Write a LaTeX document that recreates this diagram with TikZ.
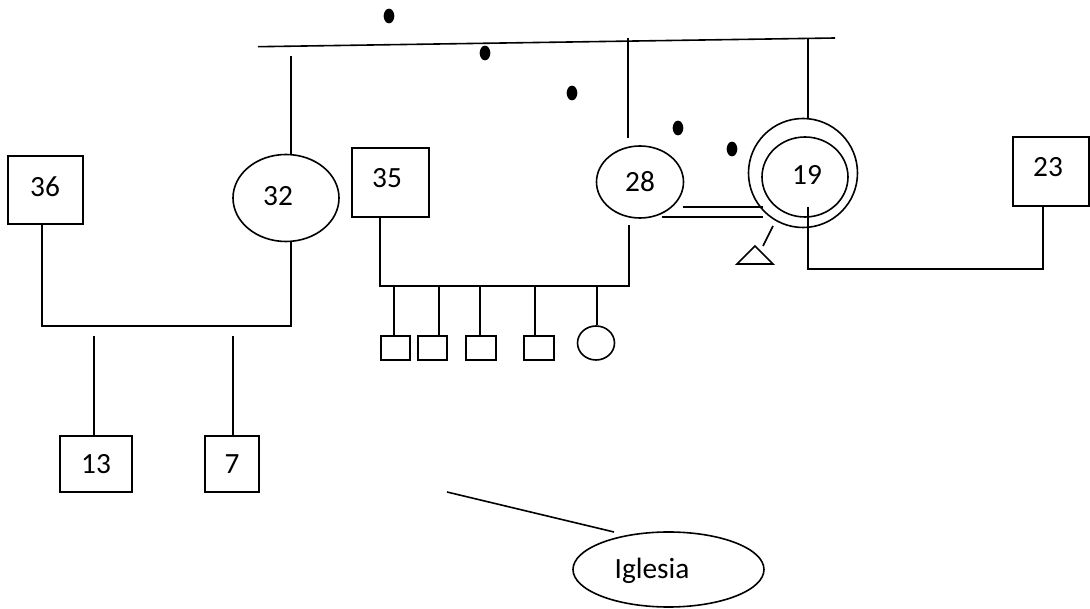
\documentclass[tikz,border=0pt]{standalone}
\usepackage{fontspec}
\setmainfont{Carlito}
\usetikzlibrary{shapes.geometric}
\begin{document}
\begin{tikzpicture}[x=0.75pt,y=-0.75pt,line width=1.2pt,
  every node/.style={font=\fontsize{22}{26}\selectfont,inner sep=0pt},
  sz/.style 2 args={minimum width=#1*0.75pt,minimum height=#2*0.75pt},
  box/.style={draw,rectangle,line width=1.2pt},
  oval/.style={draw,ellipse,line width=1.2pt},
  txt/.style={draw=none},
  dot/.style={fill=black,ellipse,minimum width=8pt,minimum height=11pt,inner sep=0pt}]
\useasboundingbox (0,0) rectangle (1090,609);

% top line and dots
\coordinate (tl) at (258,46.7);
\coordinate (tr) at (835,38);
\draw (tl) -- (tr);
\node[dot] (d1) at (389,16) {};
\node[dot] (d2) at (485,53) {};
\node[dot] (d3) at (572,93) {};
\node[dot] (d4) at (678,128) {};
\node[dot] (d5) at (732,149) {};

% left family
\node[box,sz={75}{68}] (b36) at (45.5,190) {};
\node[txt] (t36) at (45,187) {36};
\node[oval,sz={106}{87}] (e32) at (286,198) {};
\node[txt] (t32txt) at (278,196) {32};
\node[box,sz={72}{56}] (b13) at (96,464) {13};
\node[box,sz={54}{56}] (b7) at (232,464) {7};
\coordinate (t32) at (291,56);
\draw (t32) -- (t32 |- e32.north);
\coordinate (m36) at (42,326);
\coordinate (m32) at (291,326);
\draw (m36 |- b36.south) -- (m36) -- (m32) -- (m32 |- e32.south);
\coordinate (k13) at (94,336);
\coordinate (k7) at (233,336);
\draw (k13) -- (k13 |- b13.north);
\draw (k7) -- (k7 |- b7.north);

% middle family
\node[box,sz={77}{69}] (b35) at (390.5,182.5) {};
\node[txt] (t35) at (387,178) {35};
\node[oval,sz={87}{72}] (e28) at (640,182) {28};
\coordinate (t28) at (628,38);
\coordinate (t28b) at (628,138);
\draw (t28) -- (t28b);
\coordinate (m35) at (380,286);
\coordinate (m28) at (629,286);
\coordinate (u28) at (629,225);
\draw (m35 |- b35.south) -- (m35) -- (m28) -- (u28);
\node[box,sz={29}{24}] (s1) at (395.5,348) {};
\node[box,sz={29}{24}] (s2) at (432.5,348) {};
\node[box,sz={30}{24}] (s3) at (481,348) {};
\node[box,sz={30}{24}] (s4) at (539,348) {};
\node[oval,sz={37}{34}] (s5) at (596,343) {};
\coordinate (k1) at (394,286);
\coordinate (k2) at (439,286);
\coordinate (k3) at (480,286);
\coordinate (k4) at (535,286);
\coordinate (k5) at (597,286);
\draw (k1) -- (k1 |- s1.north);
\draw (k2) -- (k2 |- s2.north);
\draw (k3) -- (k3 |- s3.north);
\draw (k4) -- (k4 |- s4.north);
\draw (k5) -- (k5 |- s5.north);

% 19
\node[draw,circle,sz={109}{107}] (c19o) at (803,173) {};
\node[oval,sz={86}{80}] (c19i) at (805,177) {};
\node[txt] (t19) at (807,175) {19};
\coordinate (u19) at (808,38);
\draw (u19) -- (u19 |- c19o.north);
\coordinate (p1) at (683,207);
\coordinate (p2) at (763,207);
\coordinate (p3) at (662,217);
\coordinate (p4) at (763,217);
\draw (p1) -- (p2);
\draw (p3) -- (p4);
\coordinate (q1) at (773,226);
\coordinate (q2) at (763,246);
\draw (q1) -- (q2);
\coordinate (ta) at (755,246);
\coordinate (tb) at (737,264);
\coordinate (tc) at (773,264);
\draw (ta) -- (tb) -- (tc) -- cycle;

% 23
\node[box,sz={76}{69}] (b23) at (1051,171.5) {};
\node[txt] (t23) at (1048,167) {23};
\coordinate (d19) at (808,207);
\coordinate (c1) at (808,269);
\coordinate (c2) at (1043,269);
\draw (d19) -- (c1) -- (c2) -- (c2 |- b23.south);

% Iglesia
\node[oval,sz={191}{75}] (ig) at (668.5,569.5) {};
\node[txt] (igt) at (652,571) {Iglesia};
\coordinate (il) at (447,492);
\coordinate (ir) at (614,532);
\draw (il) -- (ir);
\end{tikzpicture}
\end{document}
